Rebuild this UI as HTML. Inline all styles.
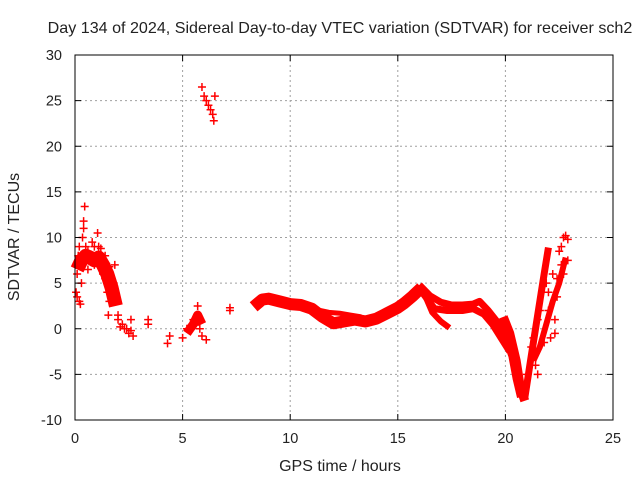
<!DOCTYPE html>
<html><head><meta charset="utf-8"><style>
body{margin:0;background:#fff}
svg text{font-family:"Liberation Sans",sans-serif;font-size:14.5px;fill:#222}
</style></head><body>
<svg id="chart" width="640" height="480" xmlns="http://www.w3.org/2000/svg">
<rect width="640" height="480" fill="#fff"/>
<text x="340" y="33" text-anchor="middle" style="font-size:16.1px">Day 134 of 2024, Sidereal Day-to-day VTEC variation (SDTVAR) for receiver sch2</text>
<text x="340" y="471" text-anchor="middle" style="font-size:16px">GPS time / hours</text>
<text transform="translate(19,237) rotate(-90)" text-anchor="middle" style="font-size:16px">SDTVAR / TECUs</text>
<g id="grid"></g><g id="marks"></g><g id="axes"></g>
</svg>
<script>
const xTicks=[0,5,10,15,20,25];
const yTicks=[-10,-5,0,5,10,15,20,25,30];
// dense tracks: [hour, value]
const trackMain=[[8.3,2.4],[8.7,3.2],[9.0,3.3],[9.5,3.0],[10,2.7],[10.5,2.6],[11,2.2],[11.5,1.3],[12,0.6],[12.5,0.8],[13,1.0],[13.5,0.8],[14,1.1],[14.5,1.7],[15,2.3],[15.3,2.8],[15.7,3.6],[16.1,4.5]];
const trackThin=[[11.2,2.1],[11.8,1.8],[12.3,1.7],[12.8,1.5],[13.3,1.3]];
const trackUpper=[[16,4.8],[16.5,3.6],[17,2.9],[17.5,2.6],[18,2.6],[18.5,2.7],[18.8,3.0],[19.2,2.0],[19.6,0.8],[20,-1],[20.3,-3],[20.5,-5.5],[20.7,-7.5]];
const trackMiddle=[[16.2,3.8],[16.7,2.2],[17.3,2.0],[18,2.0],[18.5,2.2],[19,1.6],[19.4,0.5],[19.8,-1.0],[20.2,-2.5]];
const trackLower=[[16.2,4.0],[16.6,1.8],[17,0.8],[17.4,0.1]];
const trackDip=[[19.9,1.3],[20.2,-0.5],[20.5,-3.5],[20.7,-6.5],[20.9,-7.9]];
const trackRise1=[[20.9,-7.6],[21.2,-3],[21.4,0],[21.6,3],[21.8,6],[22.0,8.9]];
const trackRise2=[[21.3,-3.5],[21.6,-2],[21.9,0.5],[22.2,3],[22.5,5],[22.8,7.8]];
const trackEarly=[[0.1,6.5],[0.3,7.5],[0.5,8],[0.7,7.8],[0.9,7.5],[1.1,7.8],[1.3,7],[1.5,6],[1.7,4.5],[1.9,2.5]];
const trackMid5=[[5.2,-0.5],[5.5,0.5],[5.7,1.5],[5.9,0.5]];
const scatter=[[0.05,7],[0.05,4],[0.1,3.5],[0.1,6],[0.15,8],[0.2,3],[0.25,2.7],[0.3,5],[0.35,10],[0.4,11],[0.4,11.8],[0.45,13.4],[0.5,9],[0.6,8.5],[0.7,7.5],[0.8,9.5],[0.9,7],[1.0,8],[1.05,10.5],[1.1,9],[1.2,7.5],[1.3,6],[1.4,5.5],[1.5,6.5],[1.5,4],[1.55,1.5],[1.6,3],[1.7,5.5],[1.8,4],[1.85,7],[1.9,3],[2.0,1.5],[2.0,1],[2.2,0.5],[2.3,0],[2.4,0],[2.5,-0.5],[2.6,1],[2.7,-0.8],[3.4,1],[3.4,0.5],[4.3,-1.6],[4.4,-0.8],[5.0,-1],[5.2,0],[5.5,1],[5.6,0.5],[5.7,2.5],[5.8,0],[5.9,-0.8],[6.1,-1.2],[7.2,2.3],[7.2,2.0],
[0.2,9],[0.6,6.5],[0.9,9],[1.2,8.8],[1.4,8],[1.6,6.8],[1.8,5],[2.1,0.2],[2.6,-0.2],
[5.9,26.5],[6.0,25.5],[6.1,25],[6.2,24.5],[6.3,24],[6.4,23.5],[6.45,22.8],[6.5,25.5],
[21.0,-5],[21.2,-2],[21.4,-4],[21.5,1],[21.7,4],[21.9,5],[22.0,2],[22.1,-1],[22.3,1],[22.4,5.5],[22.6,7],[22.7,10],[22.8,10.2],[22.9,9.8],[22.9,7.5],[22.5,8.5],
[21.3,-1],[21.5,-5],[21.6,2],[21.8,-1.5],[22.0,4],[22.2,6],[22.3,-0.5],[22.4,3.5],[22.6,9],[22.7,6]];
const X=h=>75+h*538/25, Y=v=>55+(30-v)*365/40;
const ns="http://www.w3.org/2000/svg";
function mk(tag,parent,attrs){const e=document.createElementNS(ns,tag);for(const k in attrs)e.setAttribute(k,attrs[k]);document.getElementById(parent).appendChild(e);return e;}
xTicks.forEach(t=>{
 if(t>0&&t<25){const g=mk('line','grid',{x1:X(t),x2:X(t),y1:55,y2:420,stroke:'#a0a0a0','stroke-dasharray':'2,3'});
 
 }
 mk('line','axes',{x1:X(t),x2:X(t),y1:420,y2:414,stroke:'#000'});
 mk('line','axes',{x1:X(t),x2:X(t),y1:55,y2:61,stroke:'#000'});
 const l=mk('text','axes',{x:X(t),y:443,'text-anchor':'middle'});l.textContent=t;
 
 
});
yTicks.forEach(t=>{
 if(t>-10&&t<30){const g=mk('line','grid',{x1:75,x2:613,y1:Y(t),y2:Y(t),stroke:'#a0a0a0','stroke-dasharray':'2,3'});
 
 }
 mk('line','axes',{x1:75,x2:81,y1:Y(t),y2:Y(t),stroke:'#000'});
 mk('line','axes',{x1:613,x2:607,y1:Y(t),y2:Y(t),stroke:'#000'});
 const l=mk('text','axes',{x:62,y:Y(t)+5,'text-anchor':'end'});l.textContent=t;
 
 
});
const fr=mk('rect','axes',{x:75,y:55,width:538,height:365,fill:'none',stroke:'#000'});


function track(arr,w,name){
 const p=mk('polyline','marks',{points:arr.map(d=>X(d[0])+','+Y(d[1])).join(' '),fill:'none',stroke:'#f00','stroke-width':w,'stroke-linejoin':'round','stroke-linecap':'butt'});
 
 
}
track(trackMain,12,'track-main');
track(trackThin,5,'track-thin');
track(trackUpper,7,'track-upper');
track(trackMiddle,7,'track-middle');
track(trackLower,6,'track-lower');
track(trackDip,9,'track-dip');
track(trackRise1,7,'track-rise-1');
track(trackRise2,6,'track-rise-2');
track(trackEarly,14,'track-early');
track(trackMid5,9,'track-mid5');
scatter.forEach(d=>{
 const x=X(d[0]),y=Y(d[1]);
 const p=mk('path','marks',{d:`M${x-4} ${y}H${x+4}M${x} ${y-4}V${y+4}`,stroke:'#f00','stroke-width':1.5});
 
 
});
</script>
</body></html>
